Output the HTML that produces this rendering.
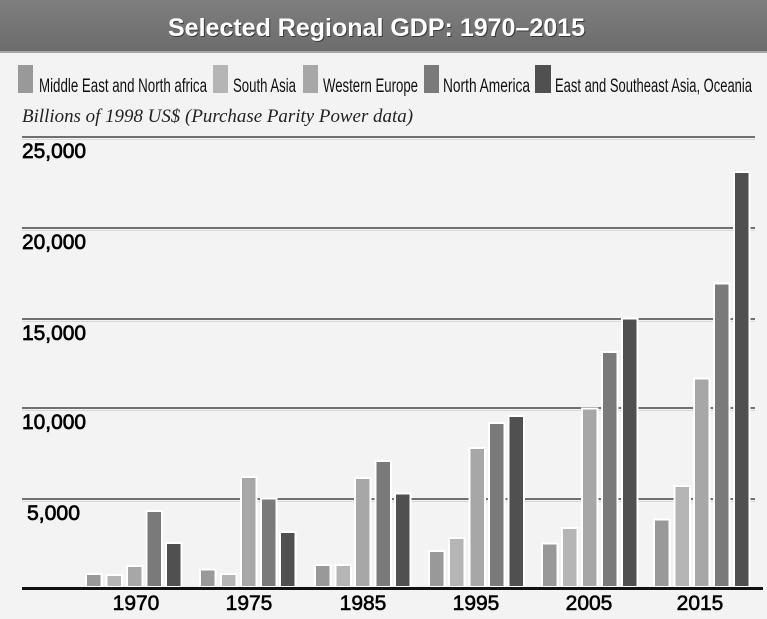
<!DOCTYPE html>
<html>
<head>
<meta charset="utf-8">
<style>
html,body{margin:0;padding:0;background:#f2f2f2;}
svg{display:block;}
</style>
</head>
<body>
<svg width="767" height="619" viewBox="0 0 767 619" xmlns="http://www.w3.org/2000/svg">
<defs>
<linearGradient id="tb" x1="0" y1="0" x2="0" y2="1">
<stop offset="0" stop-color="#7e7e7e"/>
<stop offset="1" stop-color="#6c6c6c"/>
</linearGradient>
</defs>
<rect x="0" y="0" width="767" height="619" fill="#f3f3f3"/>
<!-- title bar -->
<rect x="0" y="0" width="767" height="52" fill="url(#tb)"/>
<rect x="0" y="51" width="767" height="2" fill="#a5a5a5"/>
<text x="169" y="37" font-family="Liberation Sans, sans-serif" font-weight="bold" font-size="25" fill="#3a3a3a" textLength="417" lengthAdjust="spacingAndGlyphs">Selected Regional GDP: 1970–2015</text>
<text x="168" y="36" font-family="Liberation Sans, sans-serif" font-weight="bold" font-size="25" fill="#ffffff" textLength="417" lengthAdjust="spacingAndGlyphs">Selected Regional GDP: 1970–2015</text>

<!-- legend -->
<g font-family="Liberation Sans, sans-serif" font-size="19" fill="#111">
<rect x="18" y="65" width="15" height="28" fill="#999999"/>
<text x="39" y="92" textLength="168" lengthAdjust="spacingAndGlyphs">Middle East and North africa</text>
<rect x="213" y="65" width="15" height="28" fill="#b5b5b5"/>
<text x="233" y="92" textLength="63" lengthAdjust="spacingAndGlyphs">South Asia</text>
<rect x="303" y="65" width="15" height="28" fill="#a7a7a7"/>
<text x="323" y="92" textLength="95" lengthAdjust="spacingAndGlyphs">Western Europe</text>
<rect x="424" y="65" width="15" height="28" fill="#7a7a7a"/>
<text x="443" y="92" textLength="87" lengthAdjust="spacingAndGlyphs">North America</text>
<rect x="535" y="65" width="16" height="28" fill="#505050"/>
<text x="555" y="92" textLength="197" lengthAdjust="spacingAndGlyphs">East and Southeast Asia, Oceania</text>
</g>

<!-- subtitle -->
<text x="22" y="122" font-family="Liberation Serif, serif" font-style="italic" font-size="19" fill="#222" textLength="391" lengthAdjust="spacingAndGlyphs">Billions of 1998 US$ (Purchase Parity Power data)</text>

<!-- gridlines -->
<g stroke="#707070" stroke-width="2">
<line x1="22" y1="137" x2="755" y2="137"/>
<line x1="22" y1="228" x2="755" y2="228"/>
<line x1="22" y1="319" x2="755" y2="319"/>
<line x1="22" y1="408" x2="755" y2="408"/>
<line x1="22" y1="499" x2="755" y2="499"/>
</g>
<g stroke="#d8d8d8" stroke-width="1">
<line x1="22" y1="139.5" x2="755" y2="139.5"/>
<line x1="22" y1="230.5" x2="755" y2="230.5"/>
<line x1="22" y1="321.5" x2="755" y2="321.5"/>
<line x1="22" y1="410.5" x2="755" y2="410.5"/>
<line x1="22" y1="501.5" x2="755" y2="501.5"/>
</g>

<!-- y labels -->
<g font-family="Liberation Sans, sans-serif" font-size="21" fill="#000" stroke="#000" stroke-width="0.7">
<text x="22" y="158" textLength="64" lengthAdjust="spacingAndGlyphs">25,000</text>
<text x="22" y="249" textLength="64" lengthAdjust="spacingAndGlyphs">20,000</text>
<text x="22" y="340" textLength="64" lengthAdjust="spacingAndGlyphs">15,000</text>
<text x="22" y="429" textLength="64" lengthAdjust="spacingAndGlyphs">10,000</text>
<text x="27" y="520" textLength="53" lengthAdjust="spacingAndGlyphs">5,000</text>
</g>

<!-- bars -->
<g stroke="#ffffff" stroke-width="2">
<!-- 1970 -->
<rect x="86" y="574" width="15.5" height="13" fill="#999999"/>
<rect x="106.5" y="575" width="15.5" height="12" fill="#b5b5b5"/>
<rect x="127" y="566" width="15.5" height="21" fill="#a7a7a7"/>
<rect x="146.5" y="511" width="15.5" height="76" fill="#7a7a7a"/>
<rect x="166" y="543" width="15.5" height="44" fill="#505050"/>
<!-- 1975 -->
<rect x="200" y="569.5" width="15.5" height="17.5" fill="#999999"/>
<rect x="221" y="574" width="15.5" height="13" fill="#b5b5b5"/>
<rect x="241" y="477" width="15.5" height="110" fill="#a7a7a7"/>
<rect x="261" y="498.5" width="15.5" height="88.5" fill="#7a7a7a"/>
<rect x="280" y="532" width="15.5" height="55" fill="#505050"/>
<!-- 1985 -->
<rect x="315" y="565" width="15.5" height="22" fill="#999999"/>
<rect x="335.5" y="565" width="15.5" height="22" fill="#b5b5b5"/>
<rect x="355" y="478" width="15.5" height="109" fill="#a7a7a7"/>
<rect x="375.5" y="461" width="15.5" height="126" fill="#7a7a7a"/>
<rect x="395" y="493.5" width="15.5" height="93.5" fill="#505050"/>
<!-- 1995 -->
<rect x="429" y="551" width="15.5" height="36" fill="#999999"/>
<rect x="449" y="538" width="15.5" height="49" fill="#b5b5b5"/>
<rect x="469.5" y="448" width="15.5" height="139" fill="#a7a7a7"/>
<rect x="489" y="423" width="15.5" height="164" fill="#7a7a7a"/>
<rect x="508.5" y="416" width="15.5" height="171" fill="#505050"/>
<!-- 2005 -->
<rect x="542" y="543.5" width="15.5" height="43.5" fill="#999999"/>
<rect x="562" y="528" width="15.5" height="59" fill="#b5b5b5"/>
<rect x="582" y="408.5" width="15.5" height="178.5" fill="#a7a7a7"/>
<rect x="602" y="352" width="15.5" height="235" fill="#7a7a7a"/>
<rect x="622" y="318.5" width="15.5" height="268.5" fill="#505050"/>
<!-- 2015 -->
<rect x="654" y="519.5" width="15.5" height="67.5" fill="#999999"/>
<rect x="674.5" y="486" width="15.5" height="101" fill="#b5b5b5"/>
<rect x="694" y="378.5" width="15.5" height="208.5" fill="#a7a7a7"/>
<rect x="714" y="283.5" width="15.5" height="303.5" fill="#7a7a7a"/>
<rect x="734" y="172" width="15.5" height="415" fill="#505050"/>
</g>

<!-- baseline -->
<rect x="22" y="587" width="741" height="3" fill="#111"/>

<!-- x labels -->
<g font-family="Liberation Sans, sans-serif" font-size="21" fill="#000" stroke="#000" stroke-width="0.6" text-anchor="middle">
<text x="136" y="610">1970</text>
<text x="249" y="610">1975</text>
<text x="363" y="610">1985</text>
<text x="476" y="610">1995</text>
<text x="589" y="610">2005</text>
<text x="700" y="610">2015</text>
</g>
</svg>
</body>
</html>
